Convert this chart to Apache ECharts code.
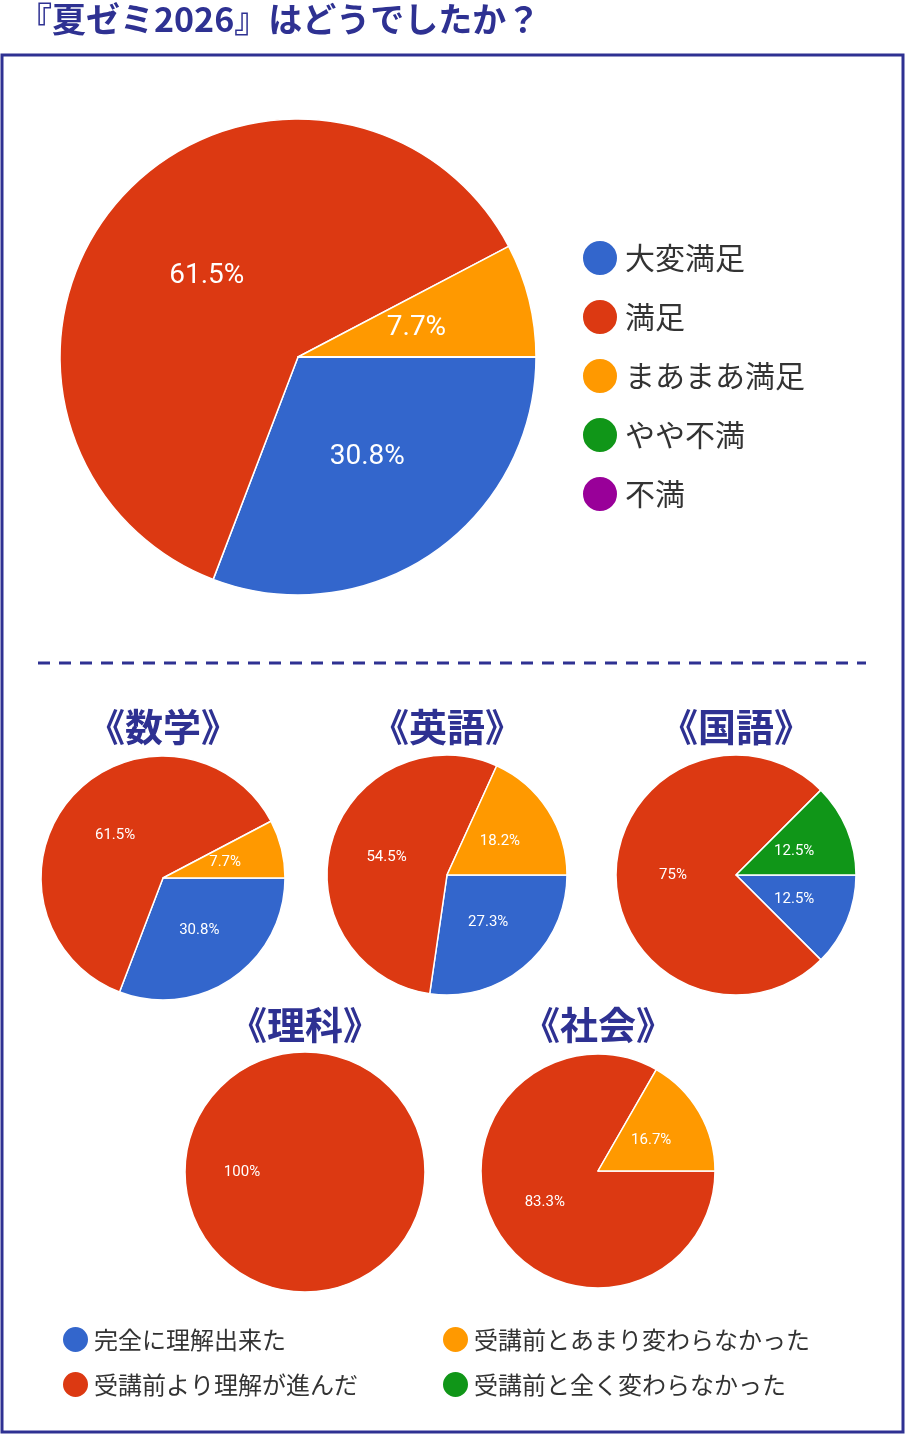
<!DOCTYPE html>
<html><head><meta charset="utf-8">
<script src="https://cdn.jsdelivr.net/npm/echarts@6/dist/echarts.min.js"></script>
<style>html,body{margin:0;padding:0;background:#fff}#c{width:906px;height:1436px}</style>
</head><body><div id="c"></div>
<script>
const mainCats = ['大変満足','満足','まあまあ満足','やや不満','不満'];
const mainColors = ['#3366cc','#dc3912','#ff9900','#109618','#990099'];
const mainValues = [30.8,61.5,7.7,0,0];
const subCats = ['完全に理解出来た','受講前より理解が進んだ','受講前とあまり変わらなかった','受講前と全く変わらなかった'];
const subColors = ['#3366cc','#dc3912','#ff9900','#109618'];
const subjects = ['《数学》','《英語》','《国語》','《理科》','《社会》'];
const subValues = [
  [30.8,61.5,7.7,0],
  [27.3,54.5,18.2,0],
  [12.5,75,0,12.5],
  [0,100,0,0],
  [0,83.3,16.7,0]
];
const subPos = [[163,878,122],[447,875,120],[736,875,120],[305,1172,120],[598,1171,117]];
const titlePos = [[163,727],[447,727],[736,727],[305,1025],[598,1025]];
const navy = '#2e3192';
const fmt = p => p.value ? (+p.percent.toFixed(1)) + '%' : '';
const series = [{
  type:'pie', center:[298,357], radius:238, startAngle:0, clockwise:true,
  percentPrecision:1, silent:true,
  data: mainCats.map((n,i)=>({name:n,value:mainValues[i],itemStyle:{color:mainColors[i]}})),
  itemStyle:{borderColor:'#fff',borderWidth:1.5},
  label:{position:'inside',color:'#fff',fontSize:28,formatter:fmt,fontFamily:'Roboto'},
  labelLine:{show:false}
}];
subValues.forEach((vals,k)=>{
  series.push({
    type:'pie', center:[subPos[k][0],subPos[k][1]], radius:subPos[k][2], startAngle:0,
    percentPrecision:1, silent:true,
    data: subCats.map((n,i)=>({name:n,value:vals[i],itemStyle:{color:subColors[i]}})).filter(d=>d.value>0),
    itemStyle:{borderColor:'#fff',borderWidth:1.5},
    label:{position:'inside',color:'#fff',fontSize:15,formatter:fmt,fontFamily:'Roboto'},
    labelLine:{show:false}
  });
});
const graphics = [
  {type:'rect',shape:{x:2,y:55,width:901,height:1377},style:{fill:'none',stroke:navy,lineWidth:3}},
  {type:'text',left:18,top:2,style:{text:'『夏ゼミ2026』はどうでしたか？',fill:navy,font:'bold 34px "Noto Sans CJK JP"'}},
  {type:'line',shape:{x1:38,y1:663,x2:866,y2:663},style:{stroke:navy,lineWidth:3,lineDash:[12,9]}}
];
subjects.forEach((s,k)=>graphics.push({type:'text',x:titlePos[k][0],y:titlePos[k][1],
  style:{text:s,fill:navy,font:'bold 38px "Noto Sans CJK JP"',align:'center',verticalAlign:'middle'}}));
const legendText = {color:'#333',fontFamily:'Noto Sans CJK JP'};
const option = {
  animation:false,
  graphic:graphics,
  legend:[
    {data:mainCats,orient:'vertical',left:576,top:234,icon:'circle',itemWidth:36,itemHeight:36,itemGap:21,
     textStyle:Object.assign({fontSize:30,padding:[0,0,0,2]},legendText),selectedMode:false},
    {data:subCats.slice(0,2),orient:'vertical',left:56,top:1320,icon:'circle',itemWidth:27,itemHeight:27,itemGap:16,
     textStyle:Object.assign({fontSize:24},legendText),selectedMode:false},
    {data:subCats.slice(2),orient:'vertical',left:436,top:1320,icon:'circle',itemWidth:27,itemHeight:27,itemGap:16,
     textStyle:Object.assign({fontSize:24},legendText),selectedMode:false}
  ],
  series:series
};
echarts.init(document.getElementById('c')).setOption(option);
</script></body></html>
